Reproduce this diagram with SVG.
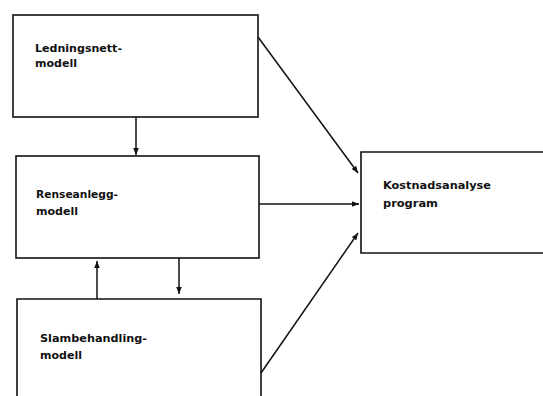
<svg xmlns="http://www.w3.org/2000/svg" width="543" height="396" viewBox="0 0 543 396">
<style>
.box{fill:#fff;stroke:#111;stroke-width:1.6}
.lbl{font-family:"DejaVu Sans","Liberation Sans",Arial,sans-serif;font-size:10.5px;font-weight:bold;fill:#111}
.con{stroke:#111;stroke-width:1.5;fill:none;marker-end:url(#ah)}
</style>
<defs>
<marker id="ah" viewBox="0 0 10 8" refX="10" refY="4" markerWidth="7" markerHeight="5.6" markerUnits="userSpaceOnUse" orient="auto">
<path d="M0,0 L10,4 L0,8 Z" fill="#111"/>
</marker>
</defs>
<rect width="543" height="396" fill="#fff"/>
<g id="node-ledningsnett">
<rect class="box" x="13" y="15" width="245" height="102"/>
<text class="lbl" x="35" y="52" textLength="87" lengthAdjust="spacingAndGlyphs">Ledningsnett-</text>
<text class="lbl" x="35" y="67" textLength="42" lengthAdjust="spacingAndGlyphs">modell</text>
</g>
<g id="node-renseanlegg">
<rect class="box" x="16" y="156" width="243" height="102"/>
<text class="lbl" x="36" y="198" textLength="82" lengthAdjust="spacingAndGlyphs">Renseanlegg-</text>
<text class="lbl" x="36" y="215" textLength="42" lengthAdjust="spacingAndGlyphs">modell</text>
</g>
<g id="node-slambehandling">
<path class="box" d="M17,400 V299 H261 V400"/>
<text class="lbl" x="40" y="342" textLength="107" lengthAdjust="spacingAndGlyphs">Slambehandling-</text>
<text class="lbl" x="40" y="359" textLength="42" lengthAdjust="spacingAndGlyphs">modell</text>
</g>
<g id="node-kostnadsanalyse">
<path class="box" d="M545,152 H361 V253 H545"/>
<text class="lbl" x="383" y="189" textLength="108" lengthAdjust="spacingAndGlyphs">Kostnadsanalyse</text>
<text class="lbl" x="383" y="207" textLength="55" lengthAdjust="spacingAndGlyphs">program</text>
</g>
<g id="connectors">
<line class="con" x1="136" y1="117" x2="136" y2="155"/>
<line class="con" x1="97" y1="299" x2="97" y2="261"/>
<line class="con" x1="179" y1="258" x2="179" y2="294"/>
<line class="con" x1="258" y1="37" x2="358" y2="173"/>
<line class="con" x1="259" y1="204" x2="359" y2="204"/>
<line class="con" x1="261" y1="373" x2="358" y2="233"/>
</g>
</svg>
